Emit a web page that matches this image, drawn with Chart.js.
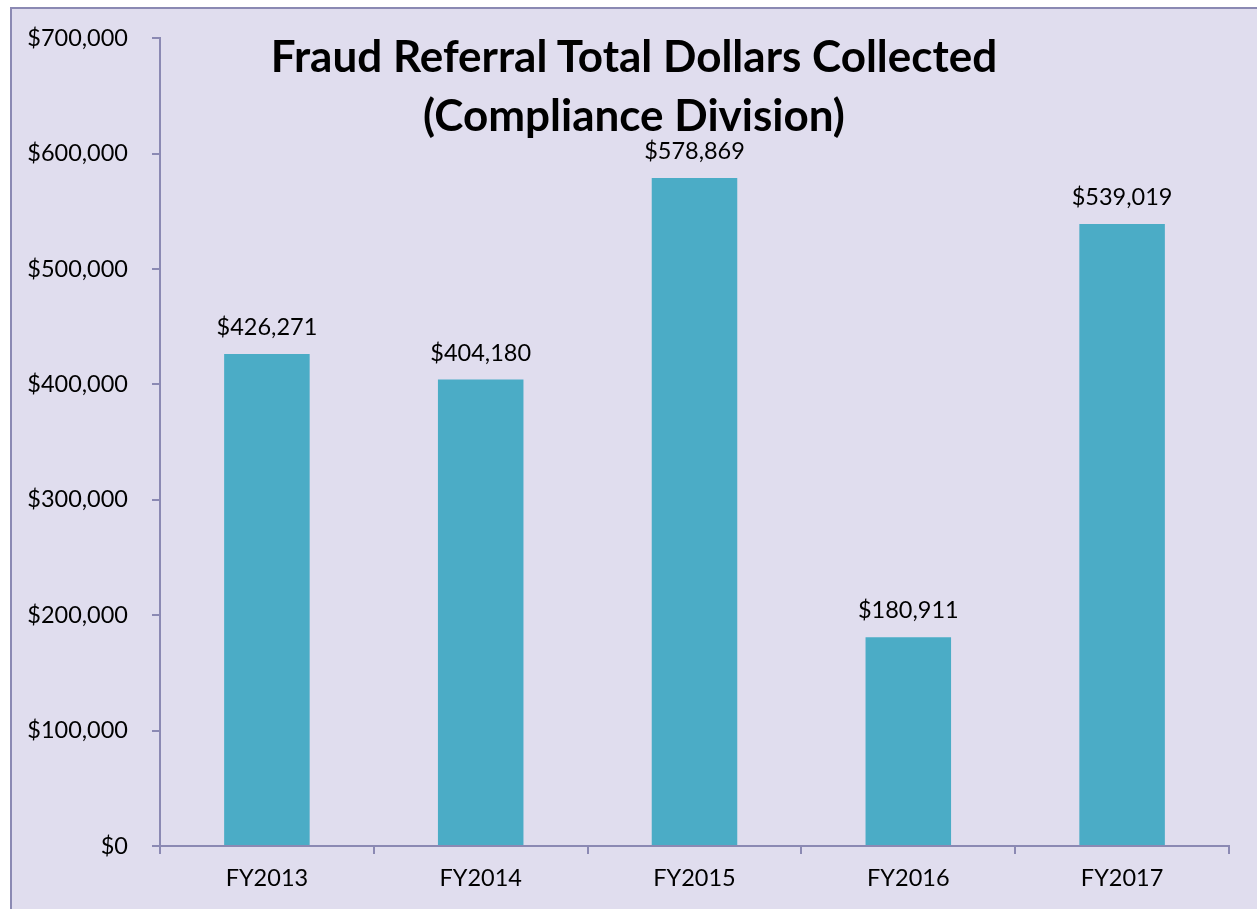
<!DOCTYPE html>
<html>
<head>
<meta charset="utf-8">
<script src="https://cdn.jsdelivr.net/npm/chart.js@4.4.1/dist/chart.umd.min.js"></script>
<style>
  html, body { margin: 0; padding: 0; background: #fff; }
  #frame {
    position: absolute; left: 10px; top: 7px; width: 1270px; height: 920px;
    background: rgb(224, 221, 238); border: 2px solid rgb(139, 137, 179);
  }
  #chart { position: absolute; left: 0; top: 0; }
  #title {
    position: absolute; left: 0; top: 26px; width: 1268px; text-align: center;
    font-family: Lato, sans-serif; font-weight: bold; font-size: 44px; line-height: 59px; color: #000;
  }
</style>
</head>
<body>
<div id="frame"></div>
<canvas id="chart" width="1257" height="909"></canvas>
<div id="title">Fraud Referral Total Dollars Collected<br>(Compliance Division)</div>
<script>
// 数据
const categories = ['FY2013', 'FY2014', 'FY2015', 'FY2016', 'FY2017'];
const dollars = [426271, 404180, 578869, 180911, 539019];
const yTicks = [0, 100000, 200000, 300000, 400000, 500000, 600000, 700000];

const axisColor = 'rgb(139, 137, 179)';
const money = v => '$' + Number(v).toLocaleString('en-US');

// 柱顶数值标签
const valueLabels = {
  id: 'valueLabels',
  afterDatasetsDraw(chart) {
    const ctx = chart.ctx;
    const meta = chart.getDatasetMeta(0);
    ctx.save();
    ctx.font = '23.5px Lato, sans-serif';
    ctx.fillStyle = '#000';
    ctx.textAlign = 'center';
    ctx.textBaseline = 'alphabetic';
    meta.data.forEach((bar, i) => {
      ctx.fillText(money(dollars[i]), bar.x, bar.y - 19);
    });
    ctx.restore();
  }
};

new Chart(document.getElementById('chart').getContext('2d'), {
  type: 'bar',
  data: {
    labels: categories,
    datasets: [{
      data: dollars,
      backgroundColor: 'rgb(75, 172, 198)',
      borderWidth: 0,
      barPercentage: 0.4,
      categoryPercentage: 1.0
    }]
  },
  options: {
    responsive: false,
    animation: false,
    layout: { padding: { left: 0, top: 38, right: 28, bottom: 0 } },
    plugins: { legend: { display: false }, tooltip: { enabled: false }, title: { display: false } },
    scales: {
      x: {
        afterFit: s => { s.height = 63; },
        grid: { display: true, drawOnChartArea: false, drawTicks: true, tickLength: 8, color: axisColor, lineWidth: 2, offset: true },
        border: { display: true, color: axisColor, width: 2 },
        ticks: { color: '#000', font: { family: 'Lato', size: 23.5 }, padding: 10 }
      },
      y: {
        min: 0,
        max: 700000,
        afterFit: s => { s.width = 160; },
        afterBuildTicks: s => { s.ticks = yTicks.map(v => ({ value: v })); },
        grid: { display: true, drawOnChartArea: false, drawTicks: true, tickLength: 8, color: axisColor, lineWidth: 2 },
        border: { display: true, color: axisColor, width: 2 },
        ticks: { color: '#000', font: { family: 'Lato', size: 23.5 }, padding: 24, callback: v => money(v) }
      }
    }
  },
  plugins: [valueLabels]
});
</script>
</body>
</html>
